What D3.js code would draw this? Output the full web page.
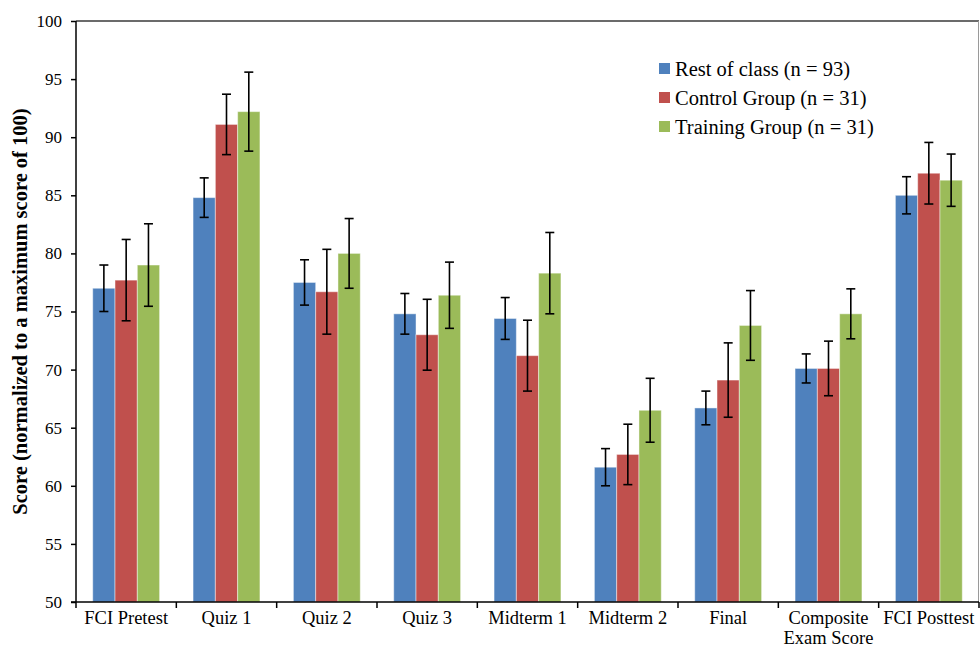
<!DOCTYPE html>
<head>
<meta charset="utf-8">
<title>Scores by group</title>
<script src="https://d3js.org/d3.v7.min.js"></script>
<style>
body {
  margin: 0;
  background: #fff;
}
svg text {
  font-family: "Liberation Serif", "Times New Roman", serif !important;
  fill: #000;
}
.axis text {
  font-size: 17px;
}
.axis path, .axis line {
  stroke: #000;
  stroke-width: 1.5px;
}
.err line {
  stroke: #000;
  stroke-width: 1.6px;
}
</style>
</head>
<body>
<script>

// chart data
const categories = ["FCI Pretest", "Quiz 1", "Quiz 2", "Quiz 3", "Midterm 1", "Midterm 2", "Final", "Composite\nExam Score", "FCI Posttest"];
const series = ["Rest of class (n = 93)", "Control Group (n = 31)", "Training Group (n = 31)"];
const restMeans     = [77.0, 84.8, 77.5, 74.8, 74.4, 61.6, 66.7, 70.1, 85.0];
const controlMeans  = [77.7, 91.1, 76.7, 73.0, 71.2, 62.7, 69.1, 70.1, 86.9];
const trainingMeans = [79.0, 92.2, 80.0, 76.4, 78.3, 66.5, 73.8, 74.8, 86.3];
const restErr     = [2.0, 1.7, 1.95, 1.75, 1.8, 1.6, 1.45, 1.25, 1.6];
const controlErr  = [3.5, 2.6, 3.65, 3.05, 3.05, 2.6, 3.2, 2.35, 2.65];
const trainingErr = [3.55, 3.4, 3.0, 2.85, 3.5, 2.75, 3.0, 2.15, 2.25];
const yTicks = [50, 55, 60, 65, 70, 75, 80, 85, 90, 95, 100];
const colors = ["#4F81BD", "#C0504D", "#9BBB59"];

const width = 980,
  height = 648;
const margin = {top: 21, right: 1, bottom: 46, left: 76};

const means = [restMeans, controlMeans, trainingMeans];
const errs = [restErr, controlErr, trainingErr];

let data = categories.map((c, i) => ({
  cat: c,
  vals: series.map((s, j) => ({key: s, idx: j, value: means[j][i], err: errs[j][i]}))
}));

let svg = d3.select('body').append('svg')
  .attr('width', width)
  .attr('height', height);

let x0 = d3.scaleBand()
  .domain(categories)
  .range([margin.left, width - margin.right])
  .paddingInner(0)
  .paddingOuter(0);

let x1 = d3.scaleBand()
  .domain(series)
  .range([0, x0.bandwidth()])
  .paddingInner(0)
  .paddingOuter(0.75);

let y = d3.scaleLinear()
  .domain([50, 100])
  .range([height - margin.bottom, margin.top]);

// plot frame (top and right)
svg.append('line')
  .attr('x1', margin.left).attr('x2', width - margin.right)
  .attr('y1', y(100)).attr('y2', y(100))
  .attr('stroke', '#3a3a3a').attr('stroke-width', 1.5);
svg.append('line')
  .attr('x1', width - margin.right - 0.5).attr('x2', width - margin.right - 0.5)
  .attr('y1', y(100)).attr('y2', y(50))
  .attr('stroke', '#9a9a9a').attr('stroke-width', 1);

// bars
let groups = svg.append('g')
  .selectAll('g')
  .data(data)
  .enter().append('g')
    .attr('transform', d => 'translate(' + x0(d.cat) + ',0)');

groups.selectAll('rect')
  .data(d => d.vals)
  .enter().append('rect')
    .attr('x', d => x1(d.key))
    .attr('y', d => y(d.value))
    .attr('width', x1.bandwidth())
    .attr('height', d => y(50) - y(d.value))
    .attr('fill', d => colors[d.idx])
    .attr('stroke', 'rgba(255,255,255,0.45)')
    .attr('stroke-width', 1);

// error bars
let err = groups.selectAll('g.err')
  .data(d => d.vals)
  .enter().append('g')
    .attr('class', 'err')
    .attr('transform', d => 'translate(' + (x1(d.key) + x1.bandwidth() / 2) + ',0)');

const cap = 4.5;
err.append('line')
  .attr('y1', d => y(d.value + d.err))
  .attr('y2', d => y(d.value - d.err));
err.append('line')
  .attr('x1', -cap).attr('x2', cap)
  .attr('y1', d => y(d.value + d.err))
  .attr('y2', d => y(d.value + d.err));
err.append('line')
  .attr('x1', -cap).attr('x2', cap)
  .attr('y1', d => y(d.value - d.err))
  .attr('y2', d => y(d.value - d.err));

// y axis
svg.append('g')
  .attr('class', 'axis')
  .attr('transform', 'translate(' + margin.left + ',0)')
  .call(d3.axisLeft(y).tickValues(yTicks).tickSize(5).tickPadding(9))
  .call(g => g.select('.domain').attr('d', 'M0,' + y(50) + 'V' + y(100)));

// x axis
let xAxis = svg.append('g')
  .attr('class', 'axis')
  .attr('transform', 'translate(0,' + y(50) + ')');

xAxis.append('line')
  .attr('x1', margin.left - 5).attr('x2', width - margin.right);

xAxis.selectAll('line.tick')
  .data(d3.range(categories.length + 1))
  .enter().append('line')
    .attr('class', 'tick')
    .attr('x1', i => margin.left + i * x0.step())
    .attr('x2', i => margin.left + i * x0.step())
    .attr('y1', 0).attr('y2', 6);

xAxis.selectAll('text')
  .data(categories)
  .enter().append('text')
    .attr('text-anchor', 'middle')
    .style('font-size', '18.5px')
    .attr('x', d => x0(d) + x0.bandwidth() / 2)
    .attr('y', 22)
    .each(function(d) {
      let lines = d.split('\n');
      let t = d3.select(this);
      lines.forEach((l, k) => {
        t.append('tspan')
          .attr('x', x0(d) + x0.bandwidth() / 2)
          .attr('dy', k === 0 ? 0 : 20)
          .text(l);
      });
    });

// y axis title
svg.append('text')
  .attr('transform', 'translate(27,' + ((y(50) + y(100)) / 2) + ') rotate(-90)')
  .attr('text-anchor', 'middle')
  .style('font-size', '20.5px')
  .style('font-weight', 'bold')
  .text('Score (normalized to a maximum score of 100)');

// legend
let legend = svg.append('g')
  .attr('transform', 'translate(659,69)')
  .selectAll('g')
  .data(series)
  .enter().append('g')
    .attr('transform', (d, i) => 'translate(0,' + (i * 29) + ')');

legend.append('rect')
  .attr('x', 0).attr('y', -6)
  .attr('width', 11).attr('height', 11)
  .attr('fill', (d, i) => colors[i]);

legend.append('text')
  .attr('x', 16)
  .attr('y', 7)
  .style('font-size', '20.5px')
  .text(d => d);

</script>
</body>
